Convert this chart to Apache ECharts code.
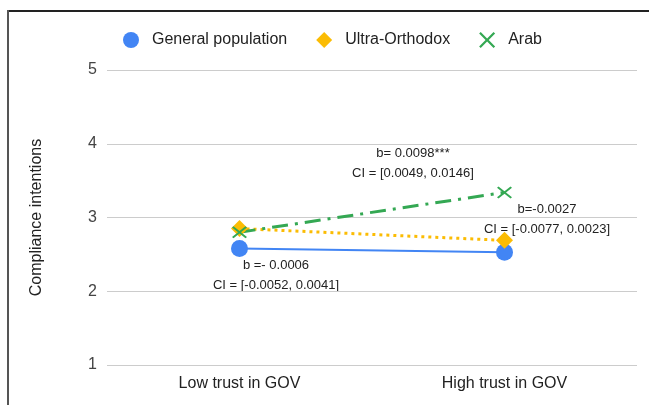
<!DOCTYPE html>
<html lang="en">
<head>
    <meta charset="UTF-8">
    <title>Compliance intentions</title>
    <style>
        html,
        body,
        #chart {
            width: 100%;
            height: 100%;
            margin: 0;
            padding: 0;
            background: #fff;
        }
    </style>
</head>
<body>
    <div id="chart"></div>
    <script src="https://cdn.jsdelivr.net/npm/echarts@6/dist/echarts.min.js"></script>
    <script>
        var categories = ['Low trust in GOV', 'High trust in GOV'];
        var generalPopulation = [2.58, 2.53];
        var ultraOrthodox = [2.85, 2.69];
        var arab = [2.80, 3.34];
        var yTicks = [1, 2, 3, 4, 5];
        var notes = [
            ['b= 0.0098***', 'CI = [0.0049, 0.0146]'],
            ['b=-0.0027', 'CI = [-0.0077, 0.0023]'],
            ['b =- 0.0006', 'CI = [-0.0052, 0.0041]']
        ];

        var crossPath = 'path://M1,0 L5,4 L9,0 L10,1 L6,5 L10,9 L9,10 L5,6 L1,10 L0,9 L4,5 L0,1 Z';
        var baseFont = 'Arial, "Liberation Sans", sans-serif';

        // two-line note, x = centre, y = top of first line
        function noteText(lines, x, y) {
            return {
                type: 'text',
                x: x,
                y: y,
                style: {
                    text: lines.join('\n'),
                    font: '13px ' + baseFont,
                    fill: '#222',
                    align: 'center',
                    verticalAlign: 'top',
                    lineHeight: 20
                }
            };
        }

        var chart = echarts.init(document.getElementById('chart'));
        chart.setOption({
            animation: false,
            textStyle: { fontFamily: baseFont },
            legend: {
                left: 118,
                top: 27,
                itemWidth: 16,
                itemHeight: 16,
                itemGap: 29,
                textStyle: { fontSize: 16, color: '#222', padding: [0, 0, 0, 8] },
                data: [
                    { name: 'General population', icon: 'circle' },
                    { name: 'Ultra-Orthodox', icon: 'diamond' },
                    { name: 'Arab', icon: crossPath }
                ]
            },
            grid: {
                left: 107,
                right: 12,
                top: 70,
                bottom: 40
            },
            xAxis: {
                type: 'category',
                data: categories,
                axisLine: { show: false },
                axisTick: { show: false },
                axisLabel: { fontSize: 16, color: '#222', margin: 11 }
            },
            yAxis: {
                type: 'value',
                min: yTicks[0],
                max: yTicks[yTicks.length - 1],
                interval: 1,
                name: 'Compliance intentions',
                nameLocation: 'middle',
                nameGap: 62,
                nameTextStyle: { fontSize: 16, color: '#222' },
                axisLabel: { fontSize: 16, color: '#444', margin: 10 },
                splitLine: { lineStyle: { color: '#ccc', width: 1 } }
            },
            series: [{
                name: 'General population',
                type: 'line',
                data: generalPopulation,
                symbol: 'circle',
                symbolSize: 17,
                itemStyle: { color: '#4285F4' },
                lineStyle: { color: '#4285F4', width: 2 }
            }, {
                name: 'Ultra-Orthodox',
                type: 'line',
                data: ultraOrthodox,
                symbol: 'diamond',
                symbolSize: 17,
                itemStyle: { color: '#FBBC04' },
                lineStyle: { color: '#FBBC04', width: 3, type: [3, 4] }
            }, {
                name: 'Arab',
                type: 'line',
                data: arab,
                symbol: crossPath,
                symbolSize: [15, 12],
                itemStyle: { color: '#34A853' },
                lineStyle: { color: '#34A853', width: 3, type: [16, 7, 3, 7] }
            }],
            graphic: [
                { type: 'rect', left: 8, top: 10, shape: { width: 641, height: 2 }, style: { fill: '#222' } },
                { type: 'rect', left: 7, top: 10, shape: { width: 2, height: 395 }, style: { fill: '#555' } },
                noteText(notes[0], 413, 143),
                noteText(notes[1], 547, 199),
                noteText(notes[2], 276, 255)
            ]
        });
    </script>
</body>
</html>
